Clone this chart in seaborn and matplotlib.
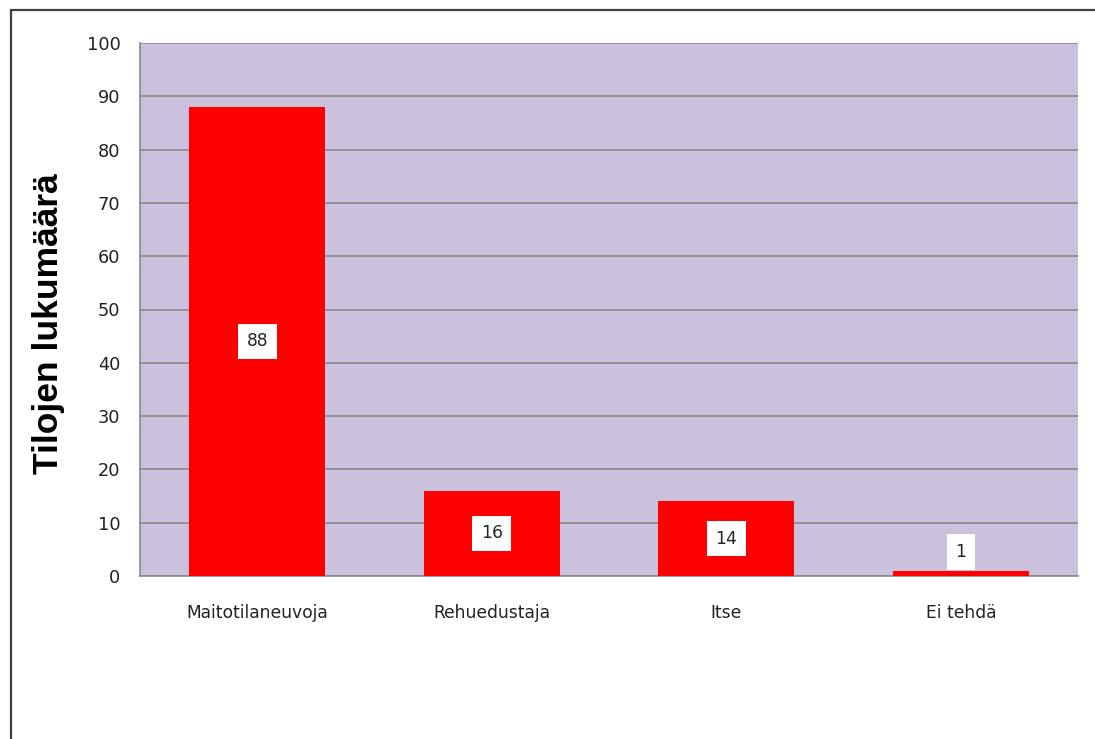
import numpy as np
import pandas as pd
import seaborn as sns
import matplotlib.pyplot as plt
from matplotlib.patches import Rectangle

# data
categories = ['Maitotilaneuvoja', 'Rehuedustaja', 'Itse', 'Ei tehdä']
counts = [88, 16, 14, 1]
ylabel = 'Tilojen lukumäärä'

df = pd.DataFrame({'tapa': categories, 'lkm': counts})

sns.set_style('white')
plt.rcParams['font.family'] = ['DejaVu Sans']

fig = plt.figure(figsize=(10.95, 7.39), dpi=100)
ax = fig.add_axes([140 / 1095, 1 - 576 / 739, (1078 - 140) / 1095, (576 - 43) / 739])

ax.set_facecolor('#ccc1dd')
sns.barplot(data=df, x='tapa', y='lkm', color='#ff0000', saturation=1,
            width=0.58, ax=ax, zorder=3)
for p in ax.patches:
    p.set_edgecolor('none')

ax.set_ylim(0, 100)
ax.set_xlim(-0.5, len(categories) - 0.5)
ax.set_yticks(range(0, 101, 10))
ax.yaxis.grid(True, color='#8a8a8a', linewidth=1.2, zorder=1)
ax.set_axisbelow(True)

# ticks on category boundaries, labels in the middle
ax.set_xticks(np.arange(len(categories)))
ax.set_xticklabels(categories, fontsize=12.3)
ax.set_xticks(np.arange(-0.5, len(categories)), minor=True)
ax.tick_params(axis='x', which='major', length=0, pad=20, colors='#222222')
ax.tick_params(axis='x', which='minor', length=7, width=1.2, color='#8a8a8a', direction='out')
ax.tick_params(axis='y', length=8, width=1.2, color='#8a8a8a', direction='out',
               labelsize=12.8, pad=6, labelcolor='#222222')

for side in ['top', 'right']:
    ax.spines[side].set_visible(False)
for side in ['left', 'bottom']:
    ax.spines[side].set_color('#8a8a8a')
    ax.spines[side].set_linewidth(1.2)

ax.set_xlabel('')
ax.set_ylabel(ylabel, fontsize=25.5, fontweight='bold', color='black',
              family=['Liberation Sans', 'DejaVu Sans'])
ax.yaxis.set_label_coords(-0.08, 0.474)

# value labels in white boxes
for i, v in enumerate(counts):
    ypos = max(v / 2, 4.5)
    ax.text(i, ypos, str(v), ha='center', va='center', fontsize=12.3, zorder=5,
            bbox=dict(boxstyle='square,pad=0.5', facecolor='white', edgecolor='none'))

# outer chart frame (cut off at right and bottom in the reference)
frame = Rectangle((11 / 1095, -0.2), 1.5, 1 - 10.5 / 739 + 0.2, transform=fig.transFigure,
                  fill=False, edgecolor='#404040', linewidth=1.6, clip_on=False)
fig.patches.append(frame)

fig.savefig('out.png', dpi=100)
